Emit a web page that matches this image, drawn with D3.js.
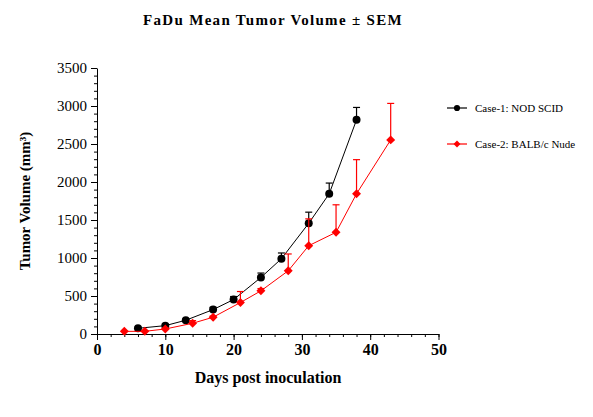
<!DOCTYPE html>
<html>
<head>
<meta charset="utf-8">
<script src="https://cdn.jsdelivr.net/npm/d3@7"></script>
<style>
  body { margin: 0; background: #fff; }
  svg { display: block; }
  svg text { font-family: "Liberation Serif", "Times New Roman", "DejaVu Serif", serif; }
</style>
</head>
<body>
<svg id="chart" width="593" height="417"></svg>
<script>
// Case-1: NOD SCID
const daysCase1 = [6, 10, 13, 17, 20, 24, 27, 31, 34, 38];
const meanCase1 = [75, 110, 181, 321, 453, 744, 990, 1457, 1845, 2818];
const semCase1  = [15, 20, 15, 30, 40, 58, 76, 146, 141, 163];

// Case-2: BALB/c Nude
const daysCase2 = [4, 7, 10, 14, 17, 21, 24, 28, 31, 35, 38, 43];
const meanCase2 = [35, 35, 66, 141, 221, 414, 568, 832, 1162, 1338, 1845, 2554];
const semCase2  = [0, 8, 10, 35, 15, 145, 30, 221, 353, 362, 449, 480];

const xTicks = [0, 10, 20, 30, 40, 50];
const yTicks = [0, 500, 1000, 1500, 2000, 2500, 3000, 3500];

// filled diamond with equal width and height
const squareDiamond = {
  draw(ctx, size) {
    const r = Math.sqrt(size / 2);
    ctx.moveTo(0, -r); ctx.lineTo(r, 0); ctx.lineTo(0, r); ctx.lineTo(-r, 0); ctx.closePath();
  }
};

const series = [
  { name: "Case-1: NOD SCID", color: "#000", symbol: d3.symbolCircle, size: 50,
    points: daysCase1.map((d, i) => ({ day: d, mean: meanCase1[i], sem: semCase1[i] })) },
  { name: "Case-2: BALB/c Nude", color: "#ff0000", symbol: squareDiamond, size: 40,
    points: daysCase2.map((d, i) => ({ day: d, mean: meanCase2[i], sem: semCase2[i] })) }
];

const svg = d3.select("#chart");
const margin = { top: 68, left: 97 };
const width = 341.5, height = 266;
const g = svg.append("g").attr("transform", "translate(" + margin.left + "," + margin.top + ")");

const x = d3.scaleLinear().domain([0, 50]).range([0, width]);
const y = d3.scaleLinear().domain([0, 3500]).range([height, 0]);

// minor ticks
g.append("g")
  .attr("transform", "translate(0," + height + ")")
  .call(d3.axisBottom(x).tickValues(d3.range(0, 51, 2)).tickSize(3).tickFormat(""))
  .call(a => a.select(".domain").remove());
g.append("g")
  .call(d3.axisLeft(y).tickValues(d3.range(0, 3501, 100)).tickSize(3).tickFormat(""))
  .call(a => a.select(".domain").remove());

// major ticks + labels
const xAxis = g.append("g")
  .attr("transform", "translate(0," + height + ")")
  .call(d3.axisBottom(x).tickValues(xTicks).tickSize(6).tickSizeOuter(0).tickPadding(4).tickFormat(d3.format("d")));
const yAxis = g.append("g")
  .call(d3.axisLeft(y).tickValues(yTicks).tickSize(6).tickSizeOuter(0).tickPadding(4).tickFormat(d3.format("d")));

g.selectAll("g").attr("font-family", "Liberation Serif");
g.selectAll(".domain, .tick line").attr("stroke", "#000").attr("stroke-width", 1);
xAxis.selectAll("text").attr("font-size", 16).attr("fill", "#000").attr("font-weight", "bold");
yAxis.selectAll("text").attr("font-size", 15).attr("fill", "#000");

const line = d3.line().x(d => x(d.day)).y(d => y(d.mean));

series.forEach(s => {
  const sg = g.append("g");
  sg.append("path")
    .datum(s.points)
    .attr("fill", "none")
    .attr("stroke", s.color)
    .attr("stroke-width", 1)
    .attr("d", line);

  const eb = sg.selectAll(".err").data(s.points.filter(p => p.sem > 0)).enter().append("g");
  eb.append("line")
    .attr("x1", d => x(d.day)).attr("x2", d => x(d.day))
    .attr("y1", d => y(d.mean)).attr("y2", d => y(d.mean + d.sem))
    .attr("stroke", s.color).attr("stroke-width", 1.2);
  eb.append("line")
    .attr("x1", d => x(d.day) - 3.5).attr("x2", d => x(d.day) + 3.5)
    .attr("y1", d => y(d.mean + d.sem)).attr("y2", d => y(d.mean + d.sem))
    .attr("stroke", s.color).attr("stroke-width", 1.2);

  sg.selectAll(".pt").data(s.points).enter().append("path")
    .attr("transform", d => "translate(" + x(d.day) + "," + y(d.mean) + ")")
    .attr("d", d3.symbol().type(s.symbol).size(s.size))
    .attr("fill", s.color);
});

// legend
const legend = svg.append("g").attr("transform", "translate(447,108)");
series.forEach((s, i) => {
  const lg = legend.append("g").attr("transform", "translate(0," + i * 36 + ")");
  lg.append("line").attr("x1", 0).attr("x2", 20).attr("stroke", s.color).attr("stroke-width", 1.2);
  lg.append("path").attr("transform", "translate(10,0)")
    .attr("d", d3.symbol().type(s.symbol).size(s.size * 0.6)).attr("fill", s.color);
  lg.append("text").attr("x", 28).attr("dy", "0.35em")
    .attr("font-size", 11).attr("fill", "#000").text(s.name);
});

// titles
svg.append("text")
  .attr("x", 273).attr("y", 25)
  .attr("text-anchor", "middle")
  .attr("font-size", 15).attr("font-weight", "bold")
  .attr("letter-spacing", 1.3)
  .text("FaDu Mean Tumor Volume ± SEM");

svg.append("text")
  .attr("x", 268).attr("y", 383)
  .attr("text-anchor", "middle")
  .attr("font-size", 16).attr("font-weight", "bold")
  .text("Days post inoculation");

svg.append("text")
  .attr("transform", "translate(30,201) rotate(-90)")
  .attr("text-anchor", "middle")
  .attr("font-size", 15).attr("font-weight", "bold")
  .text("Tumor Volume (mm³)");
</script>
</body>
</html>
